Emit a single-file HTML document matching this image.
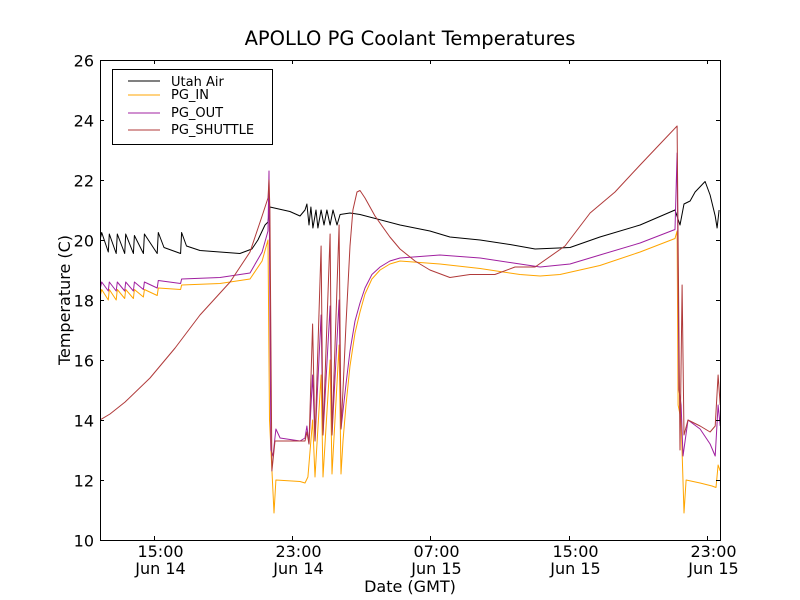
<!DOCTYPE html>
<html><head><meta charset="utf-8"><style>
body{margin:0;background:#fff}
svg{display:block;font-family:"DejaVu Sans","Liberation Sans",sans-serif}
</style></head><body>
<svg id="chart" width="800" height="600" viewBox="0 0 800 600" xmlns="http://www.w3.org/2000/svg">
<rect width="800" height="600" fill="#fff"/>
<text x="410" y="45" text-anchor="middle" font-size="19.5">APOLLO PG Coolant Temperatures</text>
<text x="410" y="592" text-anchor="middle" font-size="16">Date (GMT)</text>
<text transform="translate(70,300) rotate(-90)" text-anchor="middle" font-size="16">Temperature (C)</text>
<g id="plot"></g>
<g id="axes"></g>
<g>
<rect x="112.5" y="69.5" width="160" height="75" fill="#fff" stroke="#000" stroke-width="1"/>
<line x1="128" y1="81" x2="160" y2="81" stroke="#000"/><text x="171" y="86" font-size="13">Utah Air</text>
<line x1="128" y1="95" x2="160" y2="95" stroke="#ffa500"/><text x="171" y="99" font-size="13">PG_IN</text>
<line x1="128" y1="113" x2="160" y2="113" stroke="#a020a0"/><text x="171" y="117" font-size="13">PG_OUT</text>
<line x1="128" y1="130" x2="160" y2="130" stroke="#b03a3a"/><text x="171" y="134" font-size="13">PG_SHUTTLE</text>
</g>
</svg>
<script>
// times in hours since Jun 14 00:00 GMT
const xTickHours = [15, 23, 31, 39, 47];
const xTickTop = ["15:00","23:00","07:00","15:00","23:00"];
const xTickBottom = ["Jun 14","Jun 14","Jun 15","Jun 15","Jun 15"];
const yTicks = [10,12,14,16,18,20,22,24,26];

const utahT = [11.9,12.0,12.38,12.44,12.84,12.9,13.33,13.39,13.83,13.89,14.41,14.47,15.21,15.27,15.6,16.56,16.62,16.9,17.68,19.99,20.68,21.03,21.44,21.61,21.72,22.88,23.46,23.75,23.86,23.98,24.09,24.21,24.39,24.5,24.68,24.85,25.02,25.2,25.37,25.6,25.78,26.35,26.93,29.24,30.97,32.13,33.87,35.6,37.05,39.07,40.8,43.12,45.14,45.43,45.66,46.01,46.3,46.88,47.17,47.46,47.57,47.69];
const utahV = [20.0,20.25,19.6,20.2,19.55,20.2,19.55,20.2,19.55,20.15,19.55,20.2,19.55,20.25,19.75,19.55,20.25,19.8,19.65,19.55,19.7,20.0,20.5,20.6,21.1,20.95,20.8,21.0,21.2,20.5,21.1,20.4,21.0,20.4,21.0,20.5,21.0,20.5,21.0,20.5,20.85,20.9,20.85,20.5,20.3,20.1,20.0,19.85,19.7,19.75,20.1,20.5,21.0,20.5,21.2,21.3,21.6,21.95,21.5,20.8,20.4,21.0];

const inT = [11.9,12.0,12.38,12.44,12.84,12.9,13.33,13.39,13.83,13.89,14.41,14.47,15.21,15.27,16.56,16.62,18.84,20.57,21.27,21.61,21.7,21.96,22.07,23.46,23.75,23.92,24.19,24.33,24.68,24.79,25.2,25.31,25.72,25.83,25.95,26.12,26.35,26.64,26.93,27.22,27.62,28.09,28.66,29.24,31.55,33.87,36.18,37.34,38.49,40.8,43.12,45.14,45.26,45.32,45.49,45.66,45.78,46.59,47.28,47.51,47.63,47.75];
const inV = [18.1,18.35,18.0,18.35,18.0,18.35,18.05,18.35,18.05,18.35,18.1,18.35,18.15,18.4,18.35,18.5,18.55,18.7,19.3,20.0,14.0,10.9,12.0,11.95,11.9,12.1,14.0,12.1,15.5,12.1,16.0,12.2,16.5,12.2,13.3,14.5,15.8,16.9,17.6,18.2,18.7,19.0,19.2,19.3,19.2,19.05,18.85,18.8,18.85,19.15,19.6,20.05,20.3,14.5,14.0,10.9,12.0,11.9,11.8,11.75,12.5,12.3];

const outT = [11.9,12.0,12.38,12.44,12.84,12.9,13.33,13.39,13.83,13.89,14.41,14.47,15.21,15.27,16.56,16.62,18.84,20.57,21.27,21.61,21.67,21.78,21.9,22.07,22.31,23.46,23.75,23.86,23.98,24.19,24.33,24.68,24.79,25.2,25.31,25.72,25.83,25.95,26.12,26.35,26.64,26.93,27.22,27.62,28.09,28.66,29.24,31.55,33.87,35.6,37.34,39.07,40.8,43.12,45.14,45.26,45.37,45.49,45.6,45.89,46.59,47.17,47.46,47.63,47.75];
const outV = [18.35,18.6,18.3,18.6,18.3,18.6,18.3,18.6,18.3,18.6,18.35,18.6,18.4,18.65,18.55,18.7,18.75,18.9,19.6,20.3,22.3,13.0,12.8,13.7,13.4,13.3,13.4,13.8,13.2,15.5,13.3,17.5,13.5,17.8,13.5,18.0,13.7,14.3,15.2,16.3,17.3,17.9,18.4,18.85,19.1,19.3,19.4,19.5,19.4,19.25,19.1,19.2,19.5,19.9,20.35,22.9,15.0,14.5,12.8,14.0,13.7,13.2,12.8,14.5,13.8];

const shT = [11.9,12.48,13.35,14.79,16.24,17.68,19.42,20.57,21.27,21.61,21.67,21.72,21.84,22.02,23.46,23.75,23.86,23.98,24.19,24.33,24.68,24.79,25.2,25.31,25.72,25.83,25.95,26.12,26.35,26.52,26.76,26.93,27.22,27.8,28.66,29.24,30.11,30.97,32.13,33.29,34.73,35.89,37.05,38.78,40.23,41.67,43.12,44.27,45.26,45.32,45.43,45.55,45.66,45.89,46.59,47.17,47.46,47.63,47.75];
const shV = [14.0,14.2,14.6,15.4,16.4,17.5,18.6,19.6,20.8,21.4,22.0,21.0,12.3,13.3,13.3,13.3,13.6,13.2,17.2,13.3,19.8,13.5,20.2,13.5,20.5,13.7,15.0,17.2,19.8,21.0,21.6,21.65,21.4,20.8,20.1,19.7,19.3,19.0,18.75,18.85,18.85,19.1,19.1,19.8,20.9,21.6,22.5,23.2,23.8,20.0,13.0,18.5,13.5,14.0,13.8,13.6,13.8,15.5,14.5];

const L=100,R=720,T=60,B=540;
const h0=15, x0=153.6, pxPerH=17.3;
function xs(h){return x0+(h-h0)*pxPerH;}
function ys(v){return B-(v-10)*(B-T)/16;}
const NS="http://www.w3.org/2000/svg";
const plot=document.getElementById('plot');
const axes=document.getElementById('axes');
const defs=document.createElementNS(NS,'defs');
defs.innerHTML='<clipPath id="clip"><rect x="100" y="60" width="620" height="480"/></clipPath>';
document.getElementById('chart').appendChild(defs);
plot.setAttribute('clip-path','url(#clip)');
function series(ts,vs,color,name){
  const p=document.createElementNS(NS,'polyline');
  p.setAttribute('points',ts.map((t,i)=>xs(t).toFixed(1)+','+ys(vs[i]).toFixed(1)).join(' '));
  p.setAttribute('fill','none');p.setAttribute('stroke',color);p.setAttribute('stroke-width','1');
  p.setAttribute('stroke-linejoin','round');
  
  
  plot.appendChild(p);
}
series(utahT,utahV,'#000','utah-air-line');
series(inT,inV,'#ffa500','pg-in-line');
series(outT,outV,'#a020a0','pg-out-line');
series(shT,shV,'#b03a3a','pg-shuttle-line');

const frame=document.createElementNS(NS,'rect');
frame.setAttribute('x',L+0.5);frame.setAttribute('y',T+0.5);frame.setAttribute('width',R-L);frame.setAttribute('height',B-T);
frame.setAttribute('fill','none');frame.setAttribute('stroke','#000');


axes.appendChild(frame);
function ln(x1,y1,x2,y2){const l=document.createElementNS(NS,'line');l.setAttribute('x1',x1);l.setAttribute('y1',y1);l.setAttribute('x2',x2);l.setAttribute('y2',y2);l.setAttribute('stroke','#000');axes.appendChild(l);return l;}
function tx(x,y,s,anchor,name){const t=document.createElementNS(NS,'text');t.setAttribute('x',x);t.setAttribute('y',y);t.setAttribute('font-size','16');t.setAttribute('text-anchor',anchor);t.textContent=s;


axes.appendChild(t);}
yTicks.forEach(v=>{const y=Math.round(ys(v))+0.5;ln(L,y,L+4,y);ln(R-4,y,R,y);tx(L-6,y+6,String(v),'end','y-tick-label');});
xTickHours.forEach((h,i)=>{const x=Math.round(xs(h))+0.5;ln(x,B,x,B-4);ln(x,T,x,T+4);tx(x+6,B+17,xTickTop[i],'middle','x-tick-label');tx(x+6,B+34,xTickBottom[i],'middle','x-tick-date');});
</script>
</body></html>
